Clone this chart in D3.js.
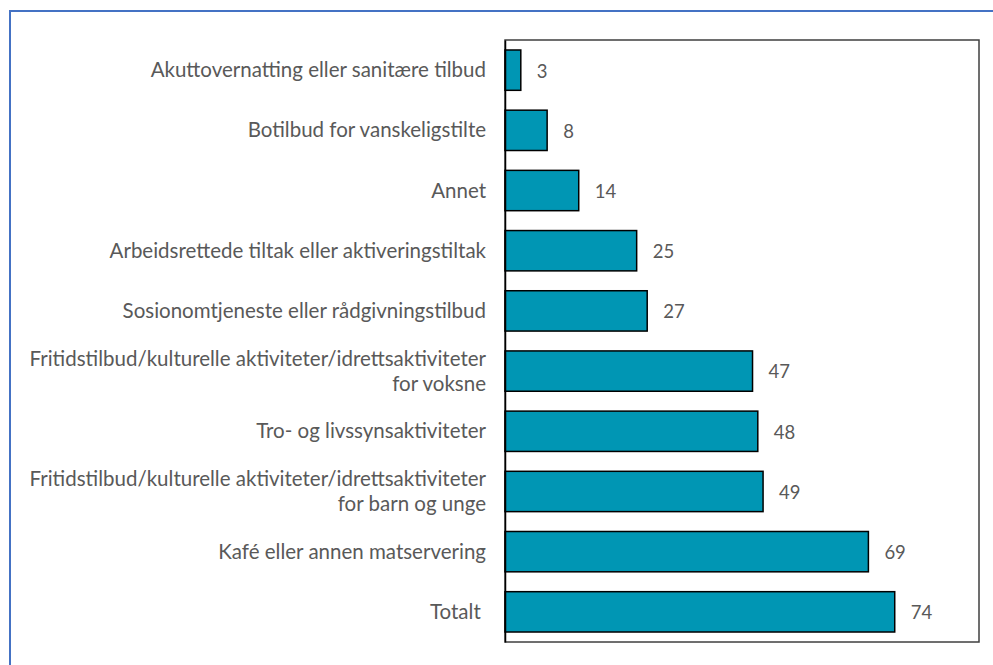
<!DOCTYPE html>
<html>
<head>
<meta charset="utf-8">
<script src="https://cdn.jsdelivr.net/npm/d3@7"></script>
<style>
  body { margin: 0; background: #fff; }
  text { font-family: "Lato", "Open Sans", sans-serif; fill: #595959; }
</style>
</head>
<body>
<svg id="chart" width="993" height="665"></svg>
<script>
// categories, top to bottom ("\n" marks a line break)
const CATEGORIES = [
  "Akuttovernatting eller sanitære tilbud",
  "Botilbud for vanskeligstilte",
  "Annet",
  "Arbeidsrettede tiltak eller aktiveringstiltak",
  "Sosionomtjeneste eller rådgivningstilbud",
  "Fritidstilbud/kulturelle aktiviteter/idrettsaktiviteter\nfor voksne",
  "Tro- og livssynsaktiviteter",
  "Fritidstilbud/kulturelle aktiviteter/idrettsaktiviteter\nfor barn og unge",
  "Kafé eller annen matservering",
  "Totalt ",
];
const VALUES = [3, 8, 14, 25, 27, 47, 48, 49, 69, 74];
const X_MAX = 90;

const config = {
  margin: { top: 40, left: 505 },
  width: 474,
  height: 602,
  labelSize: 20.5,
  valueSize: 18.5,
  lineHeight: 25,
};

const data = CATEGORIES.map((c, i) => ({ category: c, value: VALUES[i] }));

const root = d3.select("#chart");

// outer blue frame (continues past the right and bottom edges)
root
  .append("rect")
  .attr("x", 10)
  .attr("y", 11)
  .attr("width", 1100)
  .attr("height", 800)
  .attr("fill", "none")
  .attr("stroke", "#4472c4")
  .attr("stroke-width", 2);

const svg = root
  .append("g")
  .attr("transform", `translate(${config.margin.left}, ${config.margin.top})`);

// value scale (x-axis, not drawn)
const xScale = d3.scaleLinear().domain([0, X_MAX]).range([0, config.width]);

// category scale (y-axis)
const yScale = d3
  .scaleBand()
  .domain(CATEGORIES)
  .range([0, config.height])
  .paddingInner(0.33)
  .paddingOuter(0.166);

// plot box
svg
  .append("rect")
  .attr("width", config.width)
  .attr("height", config.height)
  .attr("fill", "none")
  .attr("stroke", "#3f3f3f")
  .attr("stroke-width", 1.5);

// bars
svg
  .selectAll(".bar")
  .data(data)
  .join("rect")
  .attr("class", "bar")
  .attr("x", 0)
  .attr("y", (d) => yScale(d.category))
  .attr("width", (d) => xScale(d.value))
  .attr("height", yScale.bandwidth())
  .attr("fill", "#0096b4")
  .attr("stroke", "#000")
  .attr("stroke-width", 1.5);

// left axis line
svg
  .append("g")
  .attr("class", "axis axis-y")
  .call(d3.axisLeft(yScale).tickSize(0).tickFormat(""))
  .call((g) => g.select(".domain").attr("stroke", "#000").attr("stroke-width", 1.5));

// value labels
svg
  .selectAll(".value")
  .data(data)
  .join("text")
  .attr("class", "value")
  .attr("x", (d) => xScale(d.value) + 16)
  .attr("y", (d) => yScale(d.category) + yScale.bandwidth() / 2)
  .attr("dy", "0.4em")
  .attr("font-size", config.valueSize)
  .text((d) => d.value);

// category labels
const labels = svg
  .selectAll(".label")
  .data(data)
  .join("text")
  .attr("class", "label")
  .attr("text-anchor", "end")
  .attr("font-size", config.labelSize)
  .style("white-space", "pre")
  .attr("y", (d) => yScale(d.category) + yScale.bandwidth() / 2);

labels.each(function (d) {
  const lines = d.category.split("\n");
  const start = -((lines.length - 1) * config.lineHeight) / 2;
  lines.forEach((line, i) => {
    d3.select(this)
      .append("tspan")
      .attr("x", -19)
      .attr("dy", i === 0 ? start + 7 : config.lineHeight)
      .text(line);
  });
});
</script>
</body>
</html>
